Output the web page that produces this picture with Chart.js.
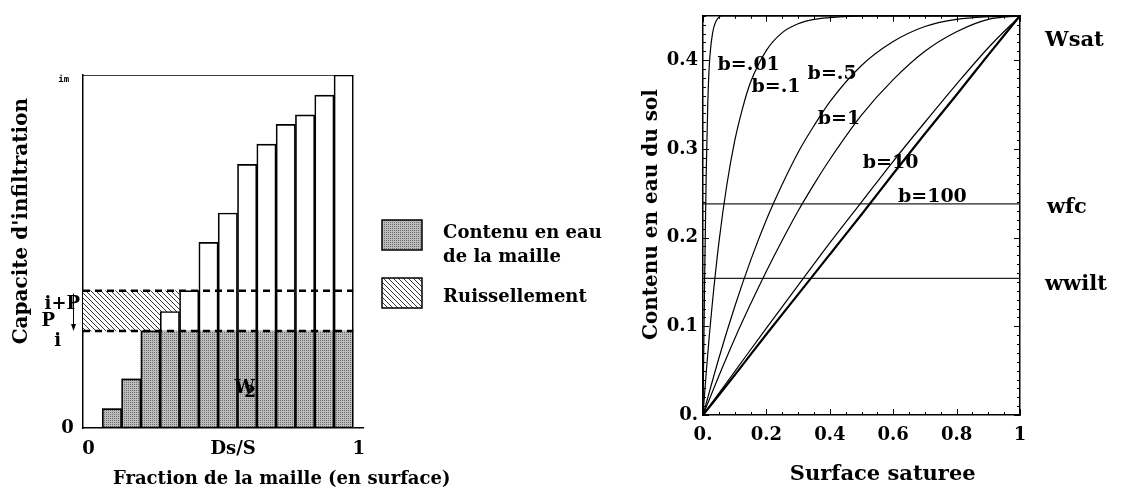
<!DOCTYPE html>
<html>
<head>
<meta charset="utf-8">
<script src="https://cdn.jsdelivr.net/npm/chart.js@4.4.1/dist/chart.umd.min.js"></script>
<style>
  html, body { margin: 0; padding: 0; background: #fff; }
  #wrap { position: relative; width: 1123px; height: 496px; overflow: hidden; }
  canvas { position: absolute; top: 0; }
  #left { left: 0; }
  #right { left: 620px; }
</style>
</head>
<body>
<div id="wrap">
  <canvas id="left" width="640" height="496"></canvas>
  <canvas id="right" width="503" height="496"></canvas>
</div>
<script>
// ---- left panel: infiltration capacity per slot (fraction of im) ----
const slotCount = 14; // surface split in 1/14 slots, slot 0 is empty
const capacity = [0.055, 0.139, 0.275, 0.330, 0.389, 0.526, 0.609, 0.747, 0.804, 0.860, 0.887, 0.943, 1.0];
const infil = 0.275;      // i
const infilPlusP = 0.389; // i+P
const capMax = 1.0;       // im
const leftXTickValues = [0.02, 0.555, 1.02];
const leftXTickLabels = ['0', 'Ds/S', '1'];
const leftYTickValues = [0, 0.246, 0.303, 0.351, 0.986];
const leftYTickLabels = ['0 ', 'i   ', 'P    ', 'i+P', 'im  '];

// ---- right panel: soil water content vs saturated surface ----
const wsat = 0.45, wfc = 0.238, wwilt = 0.154;
const sB001 = [0, 0.005, 0.01, 0.015, 0.02, 0.03, 0.04, 0.06, 1];
const wB001 = [0, 0.15, 0.27, 0.35, 0.395, 0.43, 0.443, 0.45, 0.45];
const sB01 = [0, 0.01, 0.02, 0.03, 0.05, 0.075, 0.1, 0.125, 0.15, 0.2, 0.25, 0.3, 0.35, 0.4, 0.5, 1];
const wB01 = [0, 0.047, 0.090, 0.128, 0.194, 0.259, 0.309, 0.346, 0.375, 0.411, 0.431, 0.441, 0.446, 0.448, 0.45, 0.45];
const sMid = [0, 0.05, 0.1, 0.15, 0.2, 0.25, 0.3, 0.35, 0.4, 0.5, 0.6, 0.7, 0.8, 0.9, 1];
const wB05 = [0, 0.064, 0.122, 0.174, 0.220, 0.260, 0.296, 0.326, 0.353, 0.394, 0.421, 0.438, 0.446, 0.449, 0.45];
const wB1 = [0, 0.044, 0.086, 0.125, 0.162, 0.197, 0.230, 0.260, 0.288, 0.338, 0.378, 0.410, 0.432, 0.446, 0.45];
const sLin = [0, 0.1, 0.2, 0.3, 0.4, 0.5, 0.6, 0.7, 0.8, 0.9, 1];
const wB10 = [0, 0.049, 0.098, 0.146, 0.194, 0.240, 0.286, 0.330, 0.373, 0.414, 0.45];
const wB100 = [0, 0.045, 0.091, 0.136, 0.181, 0.226, 0.272, 0.317, 0.361, 0.406, 0.45];
const rightXLabelValues = [0, 0.2, 0.4, 0.6, 0.8, 1];
const rightXLabels = ['0.', '0.2', '0.4', '0.6', '0.8', '1'];
const rightYLabelValues = [0, 0.1, 0.2, 0.3, 0.4];
const rightYLabels = ['0.', '0.1', '0.2', '0.3', '0.4'];

const SERIF = 'bold 18px "DejaVu Serif"';
const tickFont = { family: 'DejaVu Serif', weight: 'bold', size: 18 };

// fills
function makeGray() {
    const c = document.createElement('canvas');
    c.width = c.height = 2;
    const g = c.getContext('2d');
    g.fillStyle = '#bdbdbd';
    g.fillRect(0, 0, 2, 2);
    g.fillStyle = '#6e6e6e';
    g.fillRect(0, 0, 1, 1);
    return g.createPattern(c, 'repeat');
}
function makeHatch() {
    const c = document.createElement('canvas');
    c.width = c.height = 5;
    const g = c.getContext('2d');
    g.fillStyle = '#fff';
    g.fillRect(0, 0, 5, 5);
    g.fillStyle = '#3a3a3a';
    for (let k = 0; k < 5; k++) g.fillRect(k, k, 1, 1);
    return g.createPattern(c, 'repeat');
}
const grayFill = makeGray();
const hatchFill = makeHatch();

function matchLabel(v, values, labels) {
    const k = values.findIndex(t => Math.abs(t - v) < 1e-6);
    return k < 0 ? '' : labels[k];
}

// text drawn at data coordinates of the chart's x/y scales
function textPlugin(items, extra) {
    return {
        id: 'texts',
        afterDraw(chart) {
            const ctx = chart.ctx, xs = chart.scales.x, ys = chart.scales.y;
            if (extra) extra(chart, xs, ys);
            items.forEach(t => {
                ctx.save();
                ctx.font = t.font || SERIF;
                ctx.fillStyle = '#000';
                ctx.textAlign = t.align || 'left';
                ctx.textBaseline = 'middle';
                ctx.translate(xs.getPixelForValue(t.x), ys.getPixelForValue(t.y));
                if (t.rotate) ctx.rotate(t.rotate);
                ctx.fillText(t.text, 0, 0);
                ctx.restore();
            });
        }
    };
}

// ---------------- left chart ----------------
const slotX = k => (k + 0.5) / slotCount;
const waterData = capacity.map((h, k) => ({ x: slotX(k + 1), y: [0, Math.min(h, infil)] }));
const outlineData = capacity.map((h, k) => ({ x: slotX(k + 1), y: [0, h] }));
const runoffData = [0].concat(capacity)
    .map((h, k) => ({ x: slotX(k), y: [Math.max(h, infil), infilPlusP] }))
    .filter(d => d.y[0] < d.y[1] - 1e-9);

const leftTexts = [
    { text: "Capacite d'infiltration", x: -0.226, y: 0.586, align: 'center', rotate: -Math.PI / 2, font: 'bold 20px "DejaVu Serif"' },
    { text: 'Fraction de la maille (en surface)', x: 0.111, y: -0.144 },
    { text: 'Contenu en eau', x: 1.332, y: 0.552 },
    { text: 'de la maille', x: 1.332, y: 0.484 },
    { text: 'Ruissellement', x: 1.332, y: 0.371 },
    { text: 'W', x: 0.598, y: 0.112, align: 'center', font: 'bold 18px "DejaVu Serif"' },
    { text: '2', x: 0.618, y: 0.100, align: 'center', font: 'bold 17px "DejaVu Serif"' }
];
const legendBoxes = [
    { fill: grayFill, x0: 1.107, x1: 1.255, y0: 0.589, y1: 0.504 },
    { fill: hatchFill, x0: 1.107, x1: 1.255, y0: 0.425, y1: 0.340 }
];

function drawLeftExtras(chart, xs, ys) {
    const ctx = chart.ctx;
    ctx.save();
    legendBoxes.forEach(b => {
        const x0 = Math.round(xs.getPixelForValue(b.x0)), x1 = Math.round(xs.getPixelForValue(b.x1));
        const y0 = Math.round(ys.getPixelForValue(b.y0)), y1 = Math.round(ys.getPixelForValue(b.y1));
        ctx.fillStyle = b.fill;
        ctx.fillRect(x0, y0, x1 - x0, y1 - y0);
        ctx.strokeStyle = '#000';
        ctx.lineWidth = 1.5;
        ctx.strokeRect(x0, y0, x1 - x0, y1 - y0);
    });
    // arrow from i+P down to i
    const ax = Math.round(xs.getPixelForValue(-0.037)) + 0.5;
    const ya = ys.getPixelForValue(infilPlusP) + 3, yb = ys.getPixelForValue(infil);
    ctx.strokeStyle = '#000';
    ctx.lineWidth = 1;
    ctx.beginPath();
    ctx.moveTo(ax, ya);
    ctx.lineTo(ax, yb - 2);
    ctx.stroke();
    ctx.fillStyle = '#000';
    ctx.beginPath();
    ctx.moveTo(ax - 2.5, yb - 7);
    ctx.lineTo(ax + 2.5, yb - 7);
    ctx.lineTo(ax, yb);
    ctx.closePath();
    ctx.fill();
    ctx.restore();
}

function hLine(y, dash, width) {
    return {
        type: 'line',
        data: [{ x: 0, y: y }, { x: 1, y: y }],
        borderColor: '#000',
        borderWidth: width,
        borderDash: dash,
        pointRadius: 0,
        order: 0
    };
}

new Chart(document.getElementById('left'), {
    type: 'bar',
    data: {
        datasets: [
            hLine(capMax, [], 1.5),
            hLine(infilPlusP, [7, 5], 2.5),
            hLine(infil, [7, 5], 2.5),
            {
                label: 'outline',
                data: outlineData,
                backgroundColor: 'rgba(0,0,0,0)',
                borderColor: '#000',
                borderWidth: 1,
                borderSkipped: false,
                grouped: false,
                barPercentage: 1,
                categoryPercentage: 1,
                order: 1
            },
            {
                label: 'Contenu en eau de la maille',
                data: waterData,
                backgroundColor: grayFill,
                borderWidth: 0,
                grouped: false,
                barPercentage: 1,
                categoryPercentage: 1,
                order: 2
            },
            {
                label: 'Ruissellement',
                data: runoffData,
                backgroundColor: hatchFill,
                borderWidth: 0,
                grouped: false,
                barPercentage: 1,
                categoryPercentage: 1,
                order: 3
            }
        ]
    },
    options: {
        animation: false,
        responsive: false,
        devicePixelRatio: 1,
        layout: { padding: { left: 0, top: 75, right: 277, bottom: 0 } },
        plugins: { legend: { display: false }, tooltip: { enabled: false } },
        scales: {
            x: {
                type: 'linear',
                min: 0,
                max: 14.5 / slotCount,
                offset: false,
                grid: { display: false, drawTicks: false, offset: false },
                border: { color: '#000', width: 1.5 },
                afterBuildTicks: axis => { axis.ticks = leftXTickValues.map(v => ({ value: v })); },
                afterFit: axis => { axis.height = 68; },
                ticks: {
                    autoSkip: false,
                    maxRotation: 0,
                    padding: 11,
                    color: '#000',
                    font: tickFont,
                    callback: (v, i) => leftXTickLabels[i]
                }
            },
            y: {
                min: 0,
                max: 1,
                grid: { display: false, drawTicks: false },
                border: { color: '#000', width: 1.5 },
                afterBuildTicks: axis => { axis.ticks = leftYTickValues.map(v => ({ value: v })); },
                afterFit: axis => { axis.width = 83; },
                ticks: {
                    autoSkip: false,
                    padding: 3,
                    color: '#000',
                    font: ctx => ctx.index === leftYTickValues.length - 1
                        ? { family: 'DejaVu Sans Mono', weight: 'bold', size: 9 }
                        : tickFont,
                    callback: (v, i) => leftYTickLabels[i]
                }
            }
        }
    },
    plugins: [textPlugin(leftTexts, drawLeftExtras)]
});

// ---------------- right chart ----------------
const rightTexts = [
    { text: 'b=.01', x: 0.046, y: 0.395, font: 'bold 19px "DejaVu Serif"' },
    { text: 'b=.1', x: 0.153, y: 0.370, font: 'bold 19px "DejaVu Serif"' },
    { text: 'b=.5', x: 0.330, y: 0.384, font: 'bold 19px "DejaVu Serif"' },
    { text: 'b=1', x: 0.362, y: 0.334, font: 'bold 19px "DejaVu Serif"' },
    { text: 'b=10', x: 0.504, y: 0.284, font: 'bold 19px "DejaVu Serif"' },
    { text: 'b=100', x: 0.615, y: 0.246, font: 'bold 19px "DejaVu Serif"' },
    { text: 'Wsat', x: 1.079, y: 0.422, font: 'bold 21px "DejaVu Serif"' },
    { text: 'wfc', x: 1.085, y: 0.2335, font: 'bold 21px "DejaVu Serif"' },
    { text: 'wwilt', x: 1.079, y: 0.1465, font: 'bold 21px "DejaVu Serif"' },
    { text: 'Surface saturee', x: 0.567, y: -0.067, align: 'center', font: 'bold 21px "DejaVu Serif"' },
    { text: 'Contenu en eau du sol', x: -0.163, y: 0.226, align: 'center', rotate: -Math.PI / 2, font: 'bold 20px "DejaVu Serif"' }
];

// inward tick marks on all four sides
const innerTicks = {
    id: 'innerTicks',
    afterDatasetsDraw(chart) {
        const { ctx, chartArea: a, scales: { x, y } } = chart;
        ctx.save();
        ctx.strokeStyle = '#000';
        ctx.lineWidth = 1;
        ctx.beginPath();
        x.ticks.forEach(t => {
            const px = Math.round(x.getPixelForValue(t.value)) + 0.5;
            const len = matchLabel(t.value, rightXLabelValues, rightXLabels) ? 6 : 3;
            ctx.moveTo(px, a.bottom); ctx.lineTo(px, a.bottom - len);
            ctx.moveTo(px, a.top); ctx.lineTo(px, a.top + len);
        });
        y.ticks.forEach(t => {
            const py = Math.round(y.getPixelForValue(t.value)) + 0.5;
            const len = matchLabel(t.value, rightYLabelValues, rightYLabels) ? 6 : 3;
            ctx.moveTo(a.left, py); ctx.lineTo(a.left + len, py);
            ctx.moveTo(a.right, py); ctx.lineTo(a.right - len, py);
        });
        ctx.stroke();
        ctx.restore();
    }
};

function curve(s, w, width) {
    return {
        data: s.map((v, k) => ({ x: v, y: w[k] })),
        borderColor: '#000',
        borderWidth: width,
        pointRadius: 0,
        cubicInterpolationMode: 'monotone'
    };
}
function flat(y) {
    return {
        data: [{ x: 0, y: y }, { x: 1, y: y }],
        borderColor: '#222',
        borderWidth: 1.2,
        pointRadius: 0
    };
}

new Chart(document.getElementById('right'), {
    type: 'line',
    data: {
        datasets: [
            curve(sB001, wB001, 1.2),
            curve(sB01, wB01, 1.2),
            curve(sMid, wB05, 1.2),
            curve(sMid, wB1, 1.2),
            curve(sLin, wB10, 1.2),
            curve(sLin, wB100, 2.2),
            flat(wfc),
            flat(wwilt)
        ]
    },
    options: {
        animation: false,
        responsive: false,
        devicePixelRatio: 1,
        layout: { padding: { left: 0, top: 0, right: 103, bottom: 0 } },
        plugins: { legend: { display: false }, tooltip: { enabled: false } },
        scales: {
            x: {
                type: 'linear',
                position: 'bottom',
                min: 0,
                max: 1,
                grid: { display: false, drawTicks: false },
                border: { color: '#000', width: 1.5 },
                afterFit: axis => { axis.height = 81; },
                ticks: {
                    stepSize: 0.05,
                    autoSkip: false,
                    maxRotation: 0,
                    padding: 10,
                    color: '#000',
                    font: tickFont,
                    callback: v => matchLabel(v, rightXLabelValues, rightXLabels)
                }
            },
            xTop: {
                type: 'linear',
                position: 'top',
                min: 0,
                max: 1,
                grid: { display: false, drawTicks: false },
                border: { color: '#000', width: 1.5 },
                ticks: { display: false },
                afterFit: axis => { axis.height = 6; }
            },
            y: {
                min: 0,
                max: wsat,
                grid: { display: false, drawTicks: false },
                border: { color: '#000', width: 1.5 },
                afterFit: axis => { axis.width = 83; },
                ticks: {
                    stepSize: 0.01,
                    autoSkip: false,
                    padding: 5,
                    color: '#000',
                    font: tickFont,
                    callback: v => matchLabel(v, rightYLabelValues, rightYLabels)
                }
            },
            yRight: {
                position: 'right',
                min: 0,
                max: wsat,
                grid: { display: false, drawTicks: false },
                border: { color: '#000', width: 1.5 },
                ticks: { display: false },
                afterFit: axis => { axis.width = 0; }
            }
        }
    },
    plugins: [innerTicks, textPlugin(rightTexts)]
});
</script>
</body>
</html>
